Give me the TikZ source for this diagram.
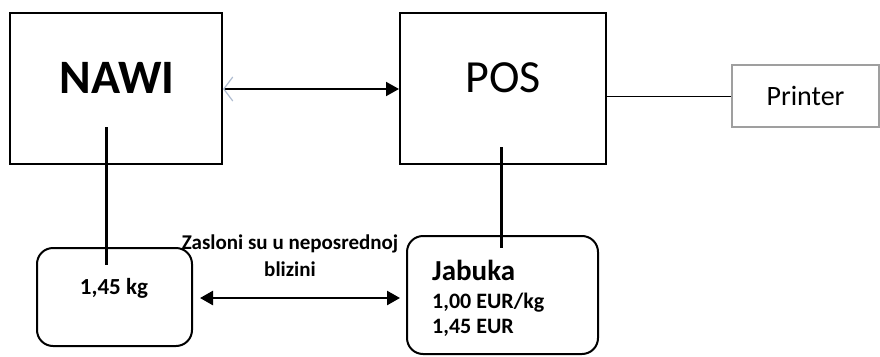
\documentclass[tikz,border=0pt]{standalone}
\usepackage{fontspec}
\setmainfont{Carlito}
\usetikzlibrary{arrows.meta}
\definecolor{barb}{RGB}{175,188,208}
\begin{document}
\begin{tikzpicture}[x=1pt,y=-1pt,
  bigbox/.style={draw,line width=2pt,inner sep=0pt},
  disp/.style={draw,line width=2pt,rounded corners=16pt,inner sep=0pt},
  thick line/.style={line width=3pt},
]
\useasboundingbox (0,0) rectangle (880,356);
\node[bigbox,minimum width=212pt,minimum height=151pt] (nawi) at (116,88.5) {};
\node[font=\fontsize{48}{54}\selectfont\bfseries,inner sep=0pt] (nawit) at (117,78) {NAWI};
\node[bigbox,minimum width=206pt,minimum height=151pt] (pos) at (503,88.5) {};
\node[font=\fontsize{46}{52}\selectfont,inner sep=0pt] (post) at (503,78) {POS};
\node[draw=gray!75,line width=1.5pt,minimum width=147pt,minimum height=62pt,inner sep=0pt,
  font=\fontsize{28}{32}\selectfont] (printer) at (805.5,96) {Printer};
\node[disp,minimum width=155pt,minimum height=98pt] (scale) at (114.5,297) {};
\node[font=\fontsize{23}{27}\selectfont\bfseries,inner sep=0pt] (scalet) at (114,288) {1,45 kg};
\node[disp,minimum width=191pt,minimum height=118pt] (pdisp) at (502.5,295) {};
\node[anchor=north west,align=left,inner sep=0pt,font=\fontsize{22}{25}\selectfont\bfseries] (ptext) at (432,260)
  {{\fontsize{29}{30}\selectfont Jabuka}\\[3pt]
   1,00 EUR/kg\\
   1,45 EUR};
\node[align=center,inner sep=0pt,font=\fontsize{21}{27}\selectfont\bfseries] (lbl) at (290,256)
  {Zasloni su u neposrednoj\\blizini};
% connectors
\draw[line width=2pt,{Straight Barb[color=barb,length=9pt,width=24pt,line width=1.2pt]}-{Triangle[length=13pt,width=14pt]}]
  (nawi.east |- 0,89) -- (pos.west |- 0,89);
\draw[line width=1pt] (printer.west -| pos.east) -- (printer.west);
\coordinate (n1) at (106,127);
\coordinate (n2) at (106,265);
\draw[thick line] (n1) -- (n2);
\coordinate (p1) at (501,147);
\coordinate (p2) at (501,248);
\draw[thick line] (p1) -- (p2);
\coordinate (a1) at (200,298);
\coordinate (a2) at (400,298);
\draw[line width=2.5pt,{Triangle[length=13pt,width=14pt]}-{Triangle[length=13pt,width=14pt]}] (a1) -- (a2);
\end{tikzpicture}
\end{document}
